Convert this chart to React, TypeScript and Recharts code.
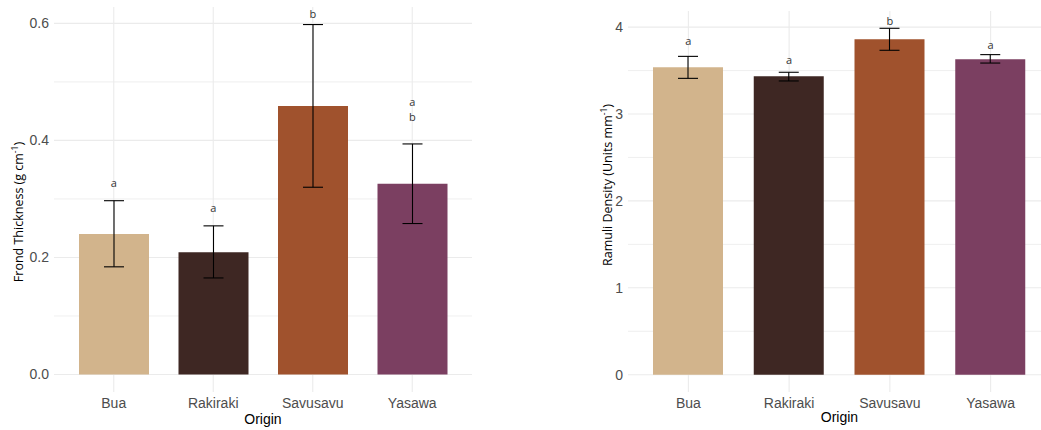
import React from 'react';
import { ComposedChart, Bar, Cell, XAxis, YAxis, ErrorBar, ReferenceLine, Scatter } from 'recharts';

const origins = ['Bua', 'Rakiraki', 'Savusavu', 'Yasawa'];
const colors = ['#D2B48C', '#3E2723', '#A0522D', '#7B3F61'];

const thicknessMean = [0.240, 0.209, 0.459, 0.326];
const thicknessLow = [0.184, 0.165, 0.320, 0.258];
const thicknessHigh = [0.297, 0.254, 0.598, 0.394];
const thicknessLetters = [['a'], ['a'], ['b'], ['a', 'b']];
const thicknessLetterY = [0.328, 0.285, 0.617, 0.454];
const thicknessTicks = [0, 0.2, 0.4, 0.6];
const thicknessMinor = [0.1, 0.3, 0.5];
const thicknessDomain = [-0.0299, 0.628];

const densityMean = [3.537, 3.433, 3.859, 3.629];
const densityLow = [3.41, 3.38, 3.733, 3.586];
const densityHigh = [3.663, 3.48, 3.986, 3.683];
const densityLetters = [['a'], ['a'], ['b'], ['a']];
const densityLetterY = [3.851, 3.632, 4.07, 3.794];
const densityTicks = [0, 1, 2, 3, 4];
const densityMinor = [0.5, 1.5, 2.5, 3.5];
const densityDomain = [-0.199, 4.185];

const TICK_FONT = 'Liberation Sans, Arial, Helvetica, sans-serif';
const TITLE_FONT = '"Open Sans", "Noto Sans", sans-serif';
const GRID = '#EBEBEB';

function build(mean: number[], low: number[], high: number[], letters: string[][], letterY: number[]) {
  return origins.map((o, i) => ({
    origin: o,
    value: mean[i],
    err: [mean[i] - low[i], high[i] - mean[i]],
    letterY: letterY[i],
    letters: letters[i],
  }));
}

const LetterShape = (props: any) => {
  const { cx, cy, payload } = props;
  const ls: string[] = payload.letters;
  const lineH = 15;
  const start = cy - ((ls.length - 1) * lineH) / 2;
  return (
    <g>
      {ls.map((l, i) => (
        <text key={i} x={cx} y={start + i * lineH} textAnchor="middle" dominantBaseline="central"
          fontFamily={TITLE_FONT} fontSize={11} fill="#333">{l}</text>
      ))}
    </g>
  );
};

type PanelProps = {
  data: any[];
  width: number;
  yAxisWidth: number;
  top: number;
  domain: number[];
  ticks: number[];
  minor: number[];
  title: string;
  titleX: number;
  titleY: number;
  originY: number;
  tickFmt: (v: number) => string;
  layer: 'grid' | 'main';
};

const Panel = (p: PanelProps) => {
  const isGrid = p.layer === 'grid';
  return (
    <ComposedChart width={p.width} height={430} data={p.data}
      margin={{ top: p.top, right: 0, left: 0, bottom: 0 }}>
      <XAxis dataKey="origin" type="category" axisLine={false} tickLine={false} tickSize={0} tickMargin={6}
        height={38} padding={{ left: 10, right: 10 }}
        tick={isGrid ? false : { fill: '#4D4D4D', fontSize: 14, fontFamily: TICK_FONT }}
        label={isGrid ? undefined : {
          content: (lp: any) => {
            const vb = lp.viewBox;
            return (
              <text x={vb.x + vb.width / 2} y={vb.y + p.originY} textAnchor="middle"
                fontFamily={TICK_FONT} fontSize={14} fill="#000">Origin</text>
            );
          },
        }}
      />
      <YAxis type="number" domain={p.domain} allowDataOverflow ticks={p.ticks} axisLine={false} tickLine={false}
        tickSize={0} tickMargin={5} width={p.yAxisWidth} tickFormatter={p.tickFmt}
        tick={isGrid ? false : { fill: '#4D4D4D', fontSize: 14, fontFamily: TICK_FONT }}
        label={isGrid ? undefined : {
          content: () => {
            const parts = p.title.split('|');
            return (
              <text x={p.titleX} y={p.titleY} textAnchor="middle" dominantBaseline="central"
                transform={`rotate(-90 ${p.titleX} ${p.titleY})`}
                fontFamily={TITLE_FONT} fontSize={12.5} fill="#000">
                {parts[0]}<tspan fontSize={8.5} dy={-4.5}>{parts[1]}</tspan><tspan dy={4.5}>{parts[2]}</tspan>
              </text>
            );
          },
        }}
      />
      {isGrid && p.minor.map((v) => (
        <ReferenceLine key={'m' + v} y={v} stroke={GRID} strokeWidth={0.8} />
      ))}
      {isGrid && p.ticks.map((v) => (
        <ReferenceLine key={'t' + v} y={v} stroke={GRID} strokeWidth={1.1} />
      ))}
      {isGrid && origins.map((o) => (
        <ReferenceLine key={'v' + o} x={o} stroke={GRID} strokeWidth={1.1} />
      ))}
      <Bar dataKey="value" barSize={70} isAnimationActive={false} fillOpacity={isGrid ? 0 : 1}>
        {p.data.map((d, i) => (
          <Cell key={d.origin} fill={isGrid ? 'transparent' : colors[i]} />
        ))}
        {!isGrid && <ErrorBar dataKey="err" width={10} stroke="#000" strokeWidth={1.1} direction="y" />}
      </Bar>
      {!isGrid && <Scatter dataKey="letterY" isAnimationActive={false} shape={LetterShape} />}
    </ComposedChart>
  );
};

const thicknessData = build(thicknessMean, thicknessLow, thicknessHigh, thicknessLetters, thicknessLetterY);
const densityData = build(densityMean, densityLow, densityHigh, densityLetters, densityLetterY);

const StackedPanel = (props: Omit<PanelProps, 'layer'> & { left: number }) => {
  const { left, ...rest } = props;
  return (
    <div style={{ position: 'absolute', left, top: 0, width: rest.width, height: 430 }}>
      <div style={{ position: 'absolute', left: 0, top: 0 }}>
        <Panel {...rest} layer="grid" />
      </div>
      <div style={{ position: 'absolute', left: 0, top: 0 }}>
        <Panel {...rest} layer="main" />
      </div>
    </div>
  );
};

export default function App() {
  return (
    <div style={{ position: 'fixed', left: 0, top: 0, width: 1041, height: 430, overflow: 'hidden', background: '#fff' }}>
      <StackedPanel left={0} data={thicknessData} width={472} yAxisWidth={54} top={7} domain={thicknessDomain}
        ticks={thicknessTicks} minor={thicknessMinor} title={'Frond Thickness (g cm|-1|)'}
        titleX={18} titleY={212} originY={32} tickFmt={(v) => v.toFixed(1)} />
      <StackedPanel left={560} data={densityData} width={491} yAxisWidth={68} top={11} domain={densityDomain}
        ticks={densityTicks} minor={densityMinor} title={'Ramuli Density (Units mm|-1|)'}
        titleX={47} titleY={185} originY={30} tickFmt={(v) => String(v)} />
    </div>
  );
}
